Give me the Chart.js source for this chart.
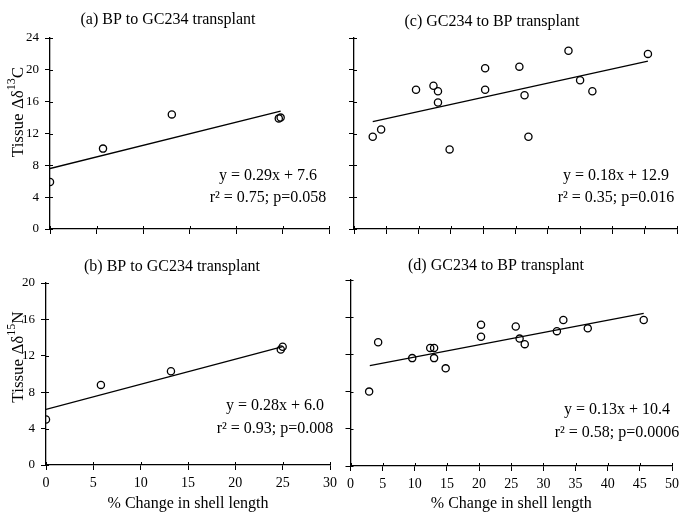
<!DOCTYPE html>
<html>
<head>
<meta charset="utf-8">
<script src="https://cdn.jsdelivr.net/npm/chart.js@4"></script>
<style>
  html, body { margin:0; padding:0; background:#fff; }
  body { width:684px; height:513px; position:relative; overflow:hidden; }
  canvas { position:absolute; }
</style>
</head>
<body>
<canvas id="ca" width="342" height="256" style="left:0;top:0"></canvas>
<canvas id="cc" width="342" height="256" style="left:342px;top:0"></canvas>
<canvas id="cb" width="342" height="257" style="left:0;top:256px"></canvas>
<canvas id="cd" width="342" height="257" style="left:342px;top:256px"></canvas>
<script>
// ---- data ----
// (a) BP to GC234, Δδ13C
const aX = [0, 5.7, 13.1, 24.6, 24.8];
const aY = [5.9, 10.1, 14.4, 13.9, 14.0];
const aFitX = [0, 24.8];
const aFitY = [7.6, 14.8];
// (b) BP to GC234, Δδ15N
const bX = [0, 5.8, 13.2, 24.8, 25.0];
const bY = [5.0, 8.8, 10.3, 12.7, 13.0];
const bFitX = [0, 25.0];
const bFitY = [6.1, 13.0];
// (c) GC234 to BP, Δδ13C
const cX = [2.9, 4.2, 9.6, 12.3, 13.0, 13.0, 14.8, 20.3, 20.3, 25.6, 26.4, 27.0, 33.2, 35.0, 36.9, 45.5];
const cY = [11.6, 12.5, 17.5, 18.0, 17.3, 15.9, 10.0, 20.2, 17.5, 20.4, 16.8, 11.6, 22.4, 18.7, 17.3, 22.0];
const cFitX = [2.9, 45.5];
const cFitY = [13.5, 21.1];
// (d) GC234 to BP, Δδ15N
const dX = [2.9, 4.3, 9.6, 12.4, 13.0, 13.0, 14.8, 20.3, 20.3, 25.7, 26.3, 27.1, 32.1, 33.1, 36.9, 45.6];
const dY = [8.0, 13.3, 11.6, 12.7, 12.7, 11.6, 10.5, 15.2, 13.9, 15.0, 13.7, 13.1, 14.5, 15.7, 14.8, 15.7];
const dFitX = [3.0, 45.6];
const dFitY = [10.8, 16.4];
// tick labels
const xTicksLeft = [0, 5, 10, 15, 20, 25, 30];
const xTicksRight = [0, 5, 10, 15, 20, 25, 30, 35, 40, 45, 50];
const yTicksC = [0, 4, 8, 12, 16, 20, 24];
const yTicksN = [0, 4, 8, 12, 16, 20];
// texts
const titles = ['(a) BP to GC234 transplant', '(b) BP to GC234 transplant', '(c) GC234 to BP transplant', '(d) GC234 to BP transplant'];
const eqs = [
  ['y = 0.29x + 7.6', 'r\u00B2 = 0.75; p=0.058'],
  ['y = 0.28x + 6.0', 'r\u00B2 = 0.93; p=0.008'],
  ['y = 0.18x + 12.9', 'r\u00B2 = 0.35; p=0.016'],
  ['y = 0.13x + 10.4', 'r\u00B2 = 0.58; p=0.0006']
];
const xTitle = '% Change in shell length';

const FONT = '"Liberation Serif", "Times New Roman", serif';

const textPlugin = {
  id: 'panelText',
  afterDraw(chart, args, o) {
    const ctx = chart.ctx;
    const ca = chart.chartArea;
    ctx.save();
    ctx.fillStyle = '#000';
    ctx.strokeStyle = '#000';
    // inner tick stubs
    ctx.lineWidth = 1;
    const xs = chart.scales.x, ys = chart.scales.y;
    xs.ticks.forEach(t => {
      const px = Math.round(xs.getPixelForValue(t.value)) + 0.5;
      ctx.beginPath(); ctx.moveTo(px, ca.bottom); ctx.lineTo(px, ca.bottom - 3); ctx.stroke();
    });
    ys.ticks.forEach(t => {
      const py = Math.round(ys.getPixelForValue(t.value)) + 0.5;
      ctx.beginPath(); ctx.moveTo(ca.left, py); ctx.lineTo(ca.left + 3, py); ctx.stroke();
    });
    ctx.textAlign = 'center';
    ctx.textBaseline = 'middle';
    ctx.font = '16px ' + FONT;
    ctx.fillText(o.title, o.tx, o.ty);
    ctx.fillText(o.eq[0], o.ex, o.ey1);
    ctx.fillText(o.eq[1], o.ex, o.ey2);
    if (o.yt) {
      ctx.save();
      ctx.translate(o.yx, o.yy);
      ctx.rotate(-Math.PI / 2);
      ctx.textAlign = 'left';
      ctx.textBaseline = 'alphabetic';
      const big = '17px ' + FONT, small = '12px ' + FONT;
      ctx.font = big; const w1 = ctx.measureText(o.yt[0]).width; const w3 = ctx.measureText(o.yt[2]).width;
      ctx.font = small; const w2 = ctx.measureText(o.yt[1]).width;
      let x0 = -(w1 + w2 + w3) / 2;
      ctx.font = big; ctx.fillText(o.yt[0], x0, 5);
      ctx.font = small; ctx.fillText(o.yt[1], x0 + w1, -3);
      ctx.font = big; ctx.fillText(o.yt[2], x0 + w1 + w2, 5);
      ctx.restore();
    }
    ctx.restore();
  }
};

function makeChart(id, px, py, fx, fy, xt, yt, ymax, xmax, showXLabels, showYLabels, geo, txt) {
  const ctx = document.getElementById(id).getContext('2d');
  const H = ctx.canvas.height;
  return new Chart(ctx, {
    data: {
      datasets: [
        {
          type: 'line',
          data: fx.map((x, i) => ({x: x, y: fy[i]})),
          borderColor: '#000', borderWidth: 1.3, pointRadius: 0, fill: false, tension: 0
        },
        {
          type: 'scatter',
          data: px.map((x, i) => ({x: x, y: py[i]})),
          pointStyle: 'circle', pointRadius: 3.6, pointBorderWidth: 1.3,
          pointBorderColor: '#000', pointBackgroundColor: 'rgba(255,255,255,0)'
        }
      ]
    },
    options: {
      responsive: false,
      animation: false,
      events: [],
      layout: { padding: { left: 0, top: geo.top, right: geo.right, bottom: 0 } },
      plugins: {
        legend: { display: false },
        tooltip: { enabled: false },
        panelText: txt
      },
      scales: {
        x: {
          type: 'linear', min: 0, max: xmax,
          afterBuildTicks: s => { s.ticks = xt.map(v => ({value: v})); },
          afterFit: s => { s.height = H - geo.bottom; },
          border: { display: true, color: '#000', width: 1.3 },
          grid: { drawOnChartArea: false, drawTicks: true, tickLength: 5, color: '#000', lineWidth: 1 },
          ticks: { display: showXLabels, color: '#000', padding: 5, maxRotation: 0, autoSkip: false,
                   font: { family: FONT, size: 14 } },
          title: { display: showXLabels, text: xTitle, color: '#000', padding: { top: 0, bottom: 0 },
                   font: { family: FONT, size: 16, lineHeight: 1.1 } }
        },
        y: {
          type: 'linear', min: 0, max: ymax,
          afterBuildTicks: s => { s.ticks = yt.map(v => ({value: v})); },
          afterFit: s => { s.width = geo.left; },
          border: { display: true, color: '#000', width: 1.3 },
          grid: { drawOnChartArea: false, drawTicks: true, tickLength: 5, color: '#000', lineWidth: 1 },
          ticks: { display: showYLabels, color: '#000', padding: 6, autoSkip: false,
                   font: { family: FONT, size: 13 } }
        }
      }
    },
    plugins: [textPlugin]
  });
}

makeChart('ca', aX, aY, aFitX, aFitY, xTicksLeft, yTicksC, 24, 30, false, true,
  { left: 50, right: 13, top: 38, bottom: 229 },
  { title: titles[0], tx: 168, ty: 20, eq: eqs[0], ex: 268, ey1: 176, ey2: 198,
    yt: ['Tissue \u0394\u03B4', '13', 'C'], yx: 18, yy: 112 });

makeChart('cc', cX, cY, cFitX, cFitY, xTicksRight, yTicksC, 24, 50, false, false,
  { left: 12, right: 7, top: 38, bottom: 229 },
  { title: titles[2], tx: 150, ty: 22, eq: eqs[2], ex: 274, ey1: 176, ey2: 198 });

makeChart('cb', bX, bY, bFitX, bFitY, xTicksLeft, yTicksN, 20, 30, true, true,
  { left: 46, right: 9, top: 27, bottom: 209 },
  { title: titles[1], tx: 172, ty: 11, eq: eqs[1], ex: 275, ey1: 150, ey2: 173,
    yt: ['Tissue \u0394\u03B4', '15', 'N'], yx: 18, yy: 101 });

makeChart('cd', dX, dY, dFitX, dFitY, xTicksRight, yTicksN, 20, 50, true, false,
  { left: 7, right: 6, top: 24, bottom: 210 },
  { title: titles[3], tx: 154, ty: 10, eq: eqs[3], ex: 275, ey1: 154, ey2: 177 });
</script>
</body>
</html>
